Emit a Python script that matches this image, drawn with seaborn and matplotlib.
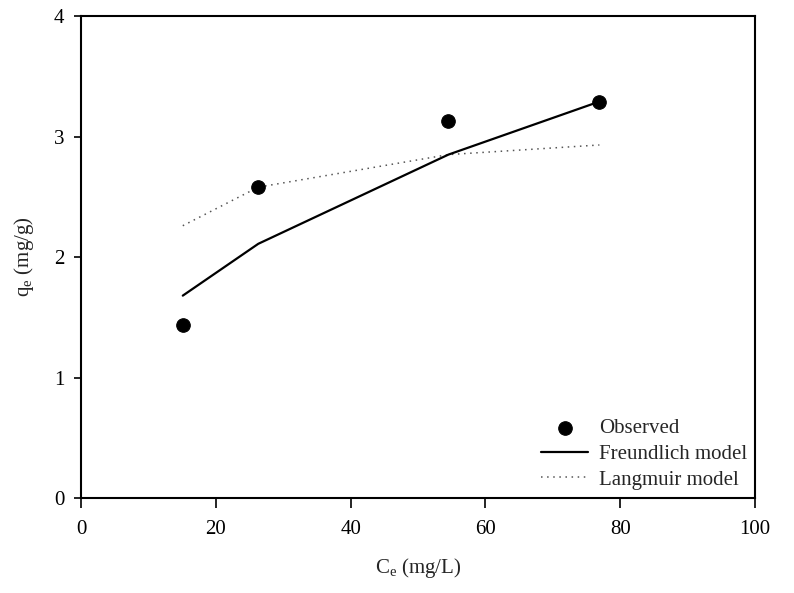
import matplotlib
matplotlib.use("Agg")
import matplotlib.pyplot as plt
import seaborn as sns
import pandas as pd

# Data
ce_obs = [15.1, 26.3, 54.5, 76.9]
qe_obs = [1.44, 2.58, 3.13, 3.29]
ce_model = [15.1, 26.3, 54.5, 76.9]
qe_freundlich = [1.68, 2.11, 2.85, 3.29]
qe_langmuir = [2.26, 2.58, 2.85, 2.93]

x_ticks = [0, 20, 40, 60, 80, 100]
y_ticks = [0, 1, 2, 3, 4]

sns.set_style("white")
plt.rcParams['font.family'] = ['Liberation Serif', 'DejaVu Serif']
plt.rcParams['mathtext.default'] = 'regular'

fig = plt.figure(figsize=(7.94, 5.93), dpi=100)
ax = fig.add_axes([0.102, 0.160, 0.849, 0.813])

obs = pd.DataFrame({"Ce": ce_obs, "qe": qe_obs})
fr = pd.DataFrame({"Ce": ce_model, "qe": qe_freundlich})
la = pd.DataFrame({"Ce": ce_model, "qe": qe_langmuir})

sns.lineplot(data=la, x="Ce", y="qe", ax=ax, color="#555555", lw=1.1,
             linestyle=(0, (1, 3)), label="Langmuir model", zorder=2)
sns.lineplot(data=fr, x="Ce", y="qe", ax=ax, color="black", lw=1.6,
             label="Freundlich model", zorder=3)
sns.scatterplot(data=obs, x="Ce", y="qe", ax=ax, color="black", s=95,
                edgecolor="black", label="Observed", zorder=4)

ax.set_xlim(0, 100)
ax.set_ylim(0, 4)
ax.set_xticks(x_ticks)
ax.set_yticks(y_ticks)
ax.tick_params(axis='x', which='major', direction='out', length=7, width=1.2,
               labelsize=15, colors='black', bottom=True, top=False, pad=9)
ax.tick_params(axis='y', which='major', direction='out', length=5, width=1.2,
               labelsize=15, colors='black', left=True, right=False, pad=7)
for sp in ax.spines.values():
    sp.set_linewidth(1.5)
    sp.set_color('black')

ax.set_xlabel("C$_e$ (mg/L)", fontsize=15, labelpad=12)
ax.set_ylabel("q$_e$ (mg/g)", fontsize=15, labelpad=13)

handles, labels = ax.get_legend_handles_labels()
order = [labels.index("Observed"), labels.index("Freundlich model"), labels.index("Langmuir model")]
ax.legend([handles[i] for i in order], [labels[i] for i in order],
          loc="lower right", frameon=False, fontsize=15, handlelength=2.25,
          handletextpad=0.5, labelspacing=0.3, bbox_to_anchor=(1.0, 0.0),
          borderaxespad=0.0)

fig.savefig("out.png", dpi=100)
